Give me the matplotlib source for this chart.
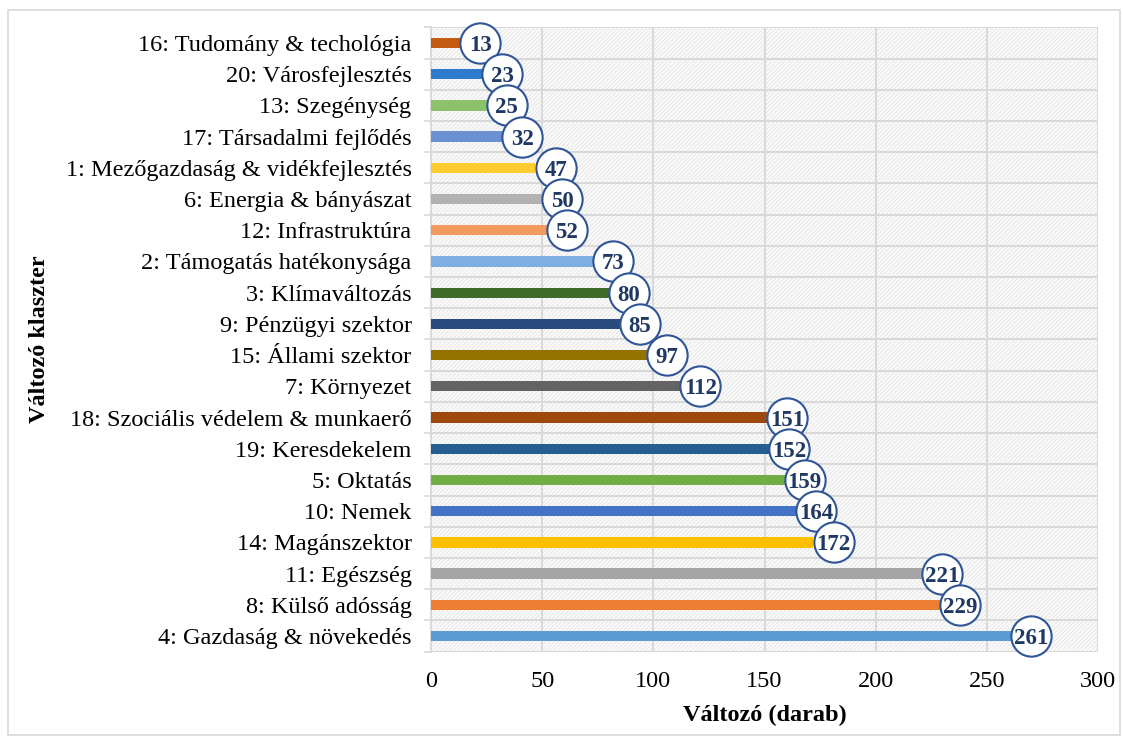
import matplotlib
matplotlib.use("Agg")
import matplotlib.pyplot as plt
import matplotlib.transforms as mtransforms
from matplotlib.patches import Rectangle
import numpy as np

categories = [
    "16: Tudomány & techológia",
    "20: Városfejlesztés",
    "13: Szegénység",
    "17: Társadalmi fejlődés",
    "1: Mezőgazdaság & vidékfejlesztés",
    "6: Energia & bányászat",
    "12: Infrastruktúra",
    "2: Támogatás hatékonysága",
    "3: Klímaváltozás",
    "9: Pénzügyi szektor",
    "15: Állami szektor",
    "7: Környezet",
    "18: Szociális védelem & munkaerő",
    "19: Keresdekelem",
    "5: Oktatás",
    "10: Nemek",
    "14: Magánszektor",
    "11: Egészség",
    "8: Külső adósság",
    "4: Gazdaság & növekedés",
]
values = [13, 23, 25, 32, 47, 50, 52, 73, 80, 85, 97, 112, 151, 152, 159, 164, 172, 221, 229, 261]
colors = [
    "#C55A11", "#2E7BCB", "#8DC26B", "#6A91D2", "#FFCB2F", "#B2B2B2",
    "#F4995F", "#7DB0E0", "#3E6B28", "#284A7E", "#967200", "#636363",
    "#9E480E", "#255E91", "#70AD47", "#4472C4", "#FFC000", "#A5A5A5",
    "#ED7D31", "#5B9BD5",
]
xticks = [0, 50, 100, 150, 200, 250, 300]

plt.rcParams["font.family"] = ["Liberation Serif", "DejaVu Serif"]
plt.rcParams["hatch.color"] = "#E0E0E0"
plt.rcParams["hatch.linewidth"] = 0.5

fig = plt.figure(figsize=(11.23, 7.38), dpi=100)
fig.patch.set_facecolor("white")
fig.patches.append(Rectangle((8 / 1123, 3 / 738), 1112 / 1123, 725 / 738,
                             transform=fig.transFigure, fill=False,
                             edgecolor="#D9D9D9", linewidth=1.2))

ax = fig.add_axes([431 / 1123, 1 - 651.6 / 738, (1098 - 431) / 1123, (651.6 - 27.4) / 738])
ax.patch.set_facecolor("#FAFAFA")
ax.patch.set_hatch("////////")
ax.patch.set_edgecolor("#E0E0E0")

y = np.arange(len(categories))
ax.set_xlim(0, 300)
ax.set_ylim(len(categories) - 0.5, -0.5)

# grid
for xv in xticks:
    ax.axvline(xv, color="#D9D9D9", lw=1.4, zorder=1)
for b in np.arange(-0.5, len(categories), 1.0):
    ax.axhline(b, color="#D9D9D9", lw=1.4, zorder=1)

ax.barh(y, values, height=0.33, color=colors, zorder=3)

r_pt = 14.5
off = mtransforms.offset_copy(ax.transData, fig=fig, x=r_pt, y=0, units="points")
ax.scatter(values, y, s=(2 * r_pt) ** 2, facecolor="white", edgecolor="#2F5597",
           linewidth=1.5, transform=off, zorder=4, clip_on=False)
for v, yy in zip(values, y):
    ax.text(v, yy, str(v), transform=off, ha="center", va="center_baseline",
            fontsize=16.5, fontweight="bold", color="#1F3864", zorder=5,
            clip_on=False)

for s in ax.spines.values():
    s.set_visible(False)
ax.spines["left"].set_visible(True)
ax.spines["left"].set_color("#D9D9D9")
ax.spines["left"].set_linewidth(1.4)

ax.set_xticks(xticks)
ax.set_xticklabels([str(t) for t in xticks])
ax.set_yticks(y)
ax.set_yticklabels(categories)
ax.set_yticks(np.arange(-0.5, len(categories), 1.0), minor=True)
ax.tick_params(axis="x", length=0, pad=14, labelsize=17.5)
ax.tick_params(axis="y", which="major", length=0, pad=14, labelsize=17.5)
ax.tick_params(axis="y", which="minor", length=5, width=1.2, color="#D9D9D9")

ax.set_xlabel("Változó (darab)", fontsize=17.5, fontweight="bold", labelpad=9)
fig.text(40 / 1123, 1 - 339.5 / 738, "Változó klaszter", rotation=90,
         ha="center", va="center", fontsize=17.5, fontweight="bold")

fig.savefig("out.png", dpi=100)
